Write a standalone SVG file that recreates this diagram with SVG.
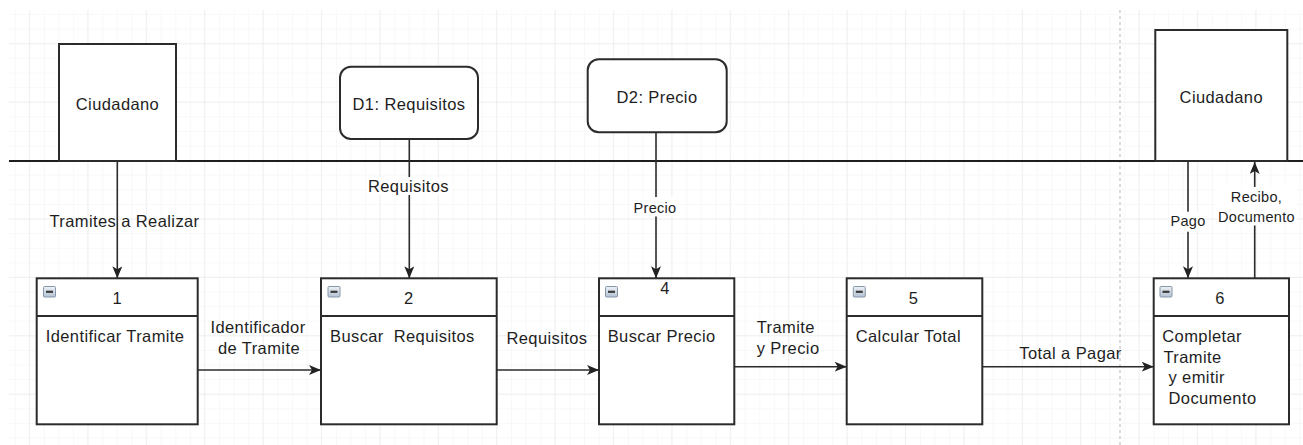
<svg xmlns="http://www.w3.org/2000/svg" width="1303" height="445" viewBox="0 0 1303 445">
<style>
.box{fill:#fff;stroke:#2b2b2b;stroke-width:2}
.ln{fill:none;stroke:#2b2b2b;stroke-width:1.6}
.t{font-family:"Liberation Sans",Arial,sans-serif;font-size:16.5px;letter-spacing:0.4px;fill:#1e1e1e}
.s{font-family:"Liberation Sans",Arial,sans-serif;font-size:14.5px;letter-spacing:0.3px;fill:#1e1e1e}
.m{text-anchor:middle}
.bg{fill:#fff}
</style>
<defs>
<pattern id="minor" x="0.1" y="-0.5" width="14.6" height="14.6" patternUnits="userSpaceOnUse">
<path d="M0,0 V14.6 M0,0 H14.6" stroke="#f2f2f2" stroke-width="1" fill="none"/>
</pattern>
<pattern id="major" x="28.9" y="43.3" width="58.4" height="58.4" patternUnits="userSpaceOnUse">
<path d="M0,0 V58.4 M0,0 H58.4" stroke="#e6e6e6" stroke-width="1" fill="none"/>
</pattern>
<linearGradient id="ig" x1="0" y1="0" x2="0" y2="1">
<stop offset="0" stop-color="#eef2f7"/>
<stop offset="1" stop-color="#b4c2d3"/>
</linearGradient>
<marker id="arr" viewBox="0 0 12 10" refX="12" refY="5" markerWidth="12" markerHeight="10" markerUnits="userSpaceOnUse" orient="auto">
<path d="M0,0 L12,5 L0,10 L3,5 Z" fill="#222"/>
</marker>
<g id="icon">
<rect x="0" y="0" width="12" height="10.5" rx="1" fill="url(#ig)" stroke="#8796a8" stroke-width="1"/>
<rect x="2.5" y="4.2" width="7" height="2.2" fill="#3a3a3a"/>
</g>
</defs>

<rect x="0" y="0" width="1303" height="445" fill="#fff"/>
<g id="grid">
<rect x="9" y="10" width="1294" height="435" fill="url(#minor)"/>
<rect x="9" y="10" width="1294" height="435" fill="url(#major)"/>
<line x1="1120" y1="10" x2="1120" y2="445" stroke="#c4c4c4" stroke-width="1.2" stroke-dasharray="3,3"/>
</g>

<line id="boundary" x1="9" y1="161" x2="1303" y2="161" stroke="#1e1e1e" stroke-width="2"/>

<g id="ciudadano1">
<rect class="box" x="59" y="44" width="117" height="117"/>
<text class="t m" x="117.5" y="110">Ciudadano</text>
</g>
<g id="d1">
<rect class="box" x="340" y="66.7" width="138" height="72.3" rx="11"/>
<text class="t m" x="409" y="110">D1: Requisitos</text>
</g>
<g id="d2">
<rect class="box" x="587.7" y="59.3" width="139" height="73" rx="11"/>
<text class="t m" x="657" y="102.7">D2: Precio</text>
</g>
<g id="ciudadano2">
<rect class="box" x="1155.3" y="30" width="132" height="131"/>
<text class="t m" x="1221.3" y="102.5">Ciudadano</text>
</g>

<g id="p1">
<rect class="box" x="36.7" y="278.3" width="161" height="146"/>
<line class="box" x1="36.7" y1="316" x2="197.7" y2="316"/>
<use href="#icon" x="43.5" y="286.5"/>
<text class="t m" x="117.2" y="304.3">1</text>
<text class="t" x="45.7" y="342.3">Identificar Tramite</text>
</g>
<g id="p2">
<rect class="box" x="321" y="278.3" width="175.7" height="146"/>
<line class="box" x1="321" y1="316" x2="496.7" y2="316"/>
<use href="#icon" x="328" y="286.5"/>
<text class="t m" x="408.8" y="304.3">2</text>
<text class="t" x="330" y="342.3" xml:space="preserve">Buscar  Requisitos</text>
</g>
<g id="p4">
<rect class="box" x="599" y="278.3" width="135.3" height="146"/>
<line class="box" x1="599" y1="316" x2="734.3" y2="316"/>
<use href="#icon" x="605.5" y="286.5"/>
<text class="t m" x="665" y="293.5">4</text>
<text class="t" x="607.7" y="342.3">Buscar Precio</text>
</g>
<g id="p5">
<rect class="box" x="846.7" y="278.3" width="135.6" height="146"/>
<line class="box" x1="846.7" y1="316" x2="982.3" y2="316"/>
<use href="#icon" x="853.3" y="286.5"/>
<text class="t m" x="913.5" y="304.3">5</text>
<text class="t" x="855.7" y="342.3">Calcular Total</text>
</g>
<g id="p6">
<rect class="box" x="1153.7" y="278.3" width="135.3" height="146"/>
<line class="box" x1="1153.7" y1="316" x2="1289" y2="316"/>
<use href="#icon" x="1160" y="286.5"/>
<text class="t m" x="1220" y="304.3">6</text>
<text class="t" x="1162.3" y="342.3">Completar</text>
<text class="t" x="1163.5" y="362.7">Tramite</text>
<text class="t" x="1163.5" y="383.3" xml:space="preserve"> y emitir</text>
<text class="t" x="1163.5" y="403.5" xml:space="preserve"> Documento</text>
</g>

<g id="connectors">
<line class="ln" x1="117.3" y1="162" x2="117.3" y2="278.3" marker-end="url(#arr)"/>
<text class="t m" x="124.5" y="226.5">Tramites a Realizar</text>

<line class="ln" x1="409.3" y1="139" x2="409.3" y2="278.3" marker-end="url(#arr)"/>
<rect class="bg" x="366" y="177" width="86" height="18"/>
<text class="t m" x="408.5" y="191.5">Requisitos</text>

<line class="ln" x1="656" y1="132.3" x2="656" y2="278.3" marker-end="url(#arr)"/>
<rect class="bg" x="632" y="197" width="46" height="19.5"/>
<text class="s m" x="655" y="212.5">Precio</text>

<line class="ln" x1="1188" y1="162" x2="1188" y2="278.3" marker-end="url(#arr)"/>
<rect class="bg" x="1170" y="211.7" width="36" height="20"/>
<text class="s m" x="1188" y="226">Pago</text>

<line class="ln" x1="1254.7" y1="278.3" x2="1254.7" y2="162" marker-end="url(#arr)"/>
<rect class="bg" x="1217" y="187" width="80" height="38.5"/>
<text class="s m" x="1256.5" y="202.3">Recibo,</text>
<text class="s m" x="1256.5" y="221.7">Documento</text>

<line class="ln" x1="197.7" y1="370" x2="321" y2="370" marker-end="url(#arr)"/>
<text class="t m" x="258" y="333.3">Identificador</text>
<text class="t m" x="259" y="354">de Tramite</text>

<line class="ln" x1="496.7" y1="370" x2="599" y2="370" marker-end="url(#arr)"/>
<text class="t m" x="547" y="344">Requisitos</text>

<line class="ln" x1="734.3" y1="366.7" x2="846.7" y2="366.7" marker-end="url(#arr)"/>
<text class="t" x="756.7" y="333.3">Tramite</text>
<text class="t" x="756.7" y="354">y Precio</text>

<line class="ln" x1="982.3" y1="366.7" x2="1153.7" y2="366.7" marker-end="url(#arr)"/>
<text class="t m" x="1070.5" y="359.3">Total a Pagar</text>
</g>
</svg>
